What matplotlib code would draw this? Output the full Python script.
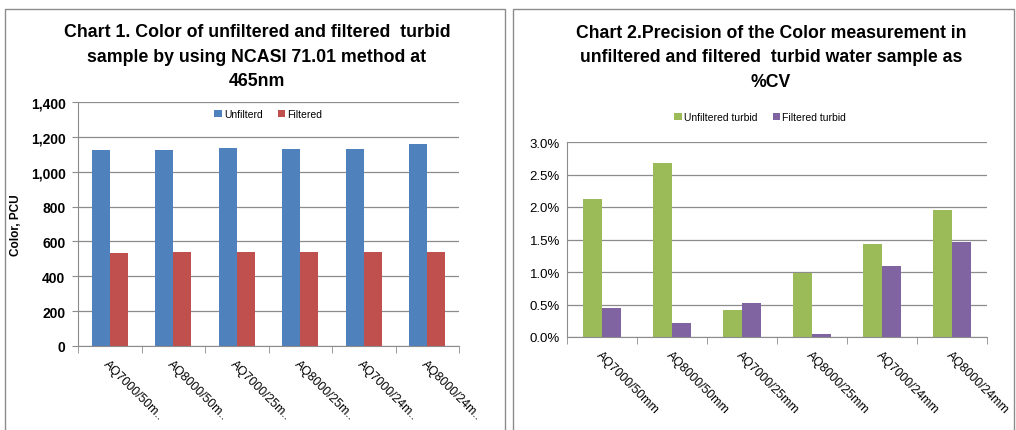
import numpy as np
import matplotlib.pyplot as plt
from matplotlib.patches import Rectangle
from matplotlib.ticker import FuncFormatter

plt.rcParams['font.family'] = ['Liberation Sans', 'DejaVu Sans']

# Data
labels_1 = ["AQ7000/50m..", "AQ8000/50m..", "AQ7000/25m..", "AQ8000/25m..", "AQ7000/24m..", "AQ8000/24m.."]
unfiltered = [1122, 1122, 1138, 1133, 1128, 1157]
filtered = [531, 537, 537, 537, 537, 537]

labels_2 = ["AQ7000/50mm", "AQ8000/50mm", "AQ7000/25mm", "AQ8000/25mm", "AQ7000/24mm", "AQ8000/24mm"]
cv_unfiltered = [2.12, 2.67, 0.41, 0.98, 1.43, 1.96]
cv_filtered = [0.45, 0.21, 0.52, 0.04, 1.09, 1.46]

W, H = 1016, 431
fig = plt.figure(figsize=(W / 100, H / 100), dpi=100)

def px_axes(x0, y0, x1, y1):
    # pixel box (top-left origin) -> figure axes
    return fig.add_axes([x0 / W, 1 - y1 / H, (x1 - x0) / W, (y1 - y0) / H])

# panel borders
for x0, x1 in [(5, 505), (513, 1014)]:
    fig.patches.append(Rectangle((x0 / W, -0.01), (x1 - x0) / W, 1 - 10 / H + 0.01,
                                 transform=fig.transFigure, fill=False,
                                 edgecolor='#8c8c8c', linewidth=1.0))

grid_c = '#8c8c8c'

def style(ax):
    ax.set_axisbelow(True)
    ax.yaxis.grid(True, color=grid_c, linewidth=0.9)
    for s in ['top', 'right']:
        ax.spines[s].set_visible(False)
    ax.spines['left'].set_color(grid_c)
    ax.spines['bottom'].set_color(grid_c)
    ax.tick_params(axis='x', which='major', length=0, pad=8)
    ax.tick_params(axis='x', which='minor', length=5, color=grid_c)
    ax.tick_params(axis='y', length=4, color=grid_c, pad=5)

# ---- Chart 1 ----
ax1 = px_axes(78, 103, 459, 347)
x = np.arange(len(labels_1))
bw = 0.285
ax1.bar(x - bw / 2, unfiltered, bw, color='#4f81bd', label='Unfilterd')
ax1.bar(x + bw / 2, filtered, bw, color='#c0504d', label='Filtered')
ax1.set_xlim(-0.5, len(labels_1) - 0.5)
ax1.set_ylim(0, 1400)
ax1.set_yticks(np.arange(0, 1401, 200))
ax1.yaxis.set_major_formatter(FuncFormatter(lambda v, p: f"{int(v):,}"))
ax1.set_xticks(x)
ax1.set_xticks(np.arange(-0.5, len(labels_1)), minor=True)
ax1.set_xticklabels(labels_1, rotation=-45, ha='left', va='top', rotation_mode='anchor', fontsize=8.8)
style(ax1)
for t in ax1.get_yticklabels():
    t.set_fontsize(10)
    t.set_fontweight('bold')
ax1.set_ylabel('Color, PCU', fontsize=8.5, fontweight='bold', labelpad=6)
ax1.legend(loc='upper center', bbox_to_anchor=(0.5, 1.01), ncol=2, frameon=False,
           fontsize=7.5, handlelength=0.7, handleheight=0.7, handletextpad=0.2, columnspacing=1.5)
fig.text(257 / W, 1 - 57 / H, "Chart 1. Color of unfiltered and filtered  turbid\nsample by using NCASI 71.01 method at\n465nm",
         ha='center', va='center', fontsize=12.8, fontweight='bold', linespacing=1.6)

# ---- Chart 2 ----
ax2 = px_axes(567, 143, 987, 338)
x2 = np.arange(len(labels_2))
bw2 = 0.265
ax2.bar(x2 - bw2 / 2, cv_unfiltered, bw2, color='#9bbb59', label='Unfiltered turbid')
ax2.bar(x2 + bw2 / 2, cv_filtered, bw2, color='#8064a2', label='Filtered turbid')
ax2.set_xlim(-0.5, len(labels_2) - 0.5)
ax2.set_ylim(0, 3.0)
ax2.set_yticks(np.arange(0, 3.01, 0.5))
ax2.yaxis.set_major_formatter(FuncFormatter(lambda v, p: f"{v:.1f}%"))
ax2.set_xticks(x2)
ax2.set_xticks(np.arange(-0.5, len(labels_2)), minor=True)
ax2.set_xticklabels(labels_2, rotation=-45, ha='left', va='top', rotation_mode='anchor', fontsize=8.8)
style(ax2)
ax2.tick_params(axis='y', length=0, labelsize=9.5)
ax2.legend(loc='upper center', bbox_to_anchor=(0.46, 1.2), ncol=2, frameon=False,
           fontsize=7.5, handlelength=0.7, handleheight=0.7, handletextpad=0.2, columnspacing=1.5)
fig.text(771 / W, 1 - 58 / H, "Chart 2.Precision of the Color measurement in\nunfiltered and filtered  turbid water sample as\n%CV",
         ha='center', va='center', fontsize=12.7, fontweight='bold', linespacing=1.6)

fig.savefig('out.png', dpi=100)
